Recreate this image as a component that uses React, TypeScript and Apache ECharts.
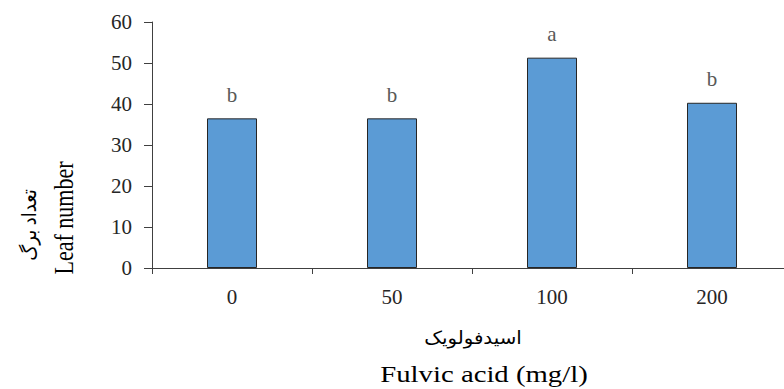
import React, { useEffect, useRef } from "react";
import * as echarts from "echarts";

const categories = ["0", "50", "100", "200"];
const leafNumber = [36.5, 36.5, 51.3, 40.3];
const letters = ["b", "b", "a", "b"];
const yTicks = { min: 0, max: 60, interval: 10 };

const SERIF = "'Liberation Serif', 'Times New Roman', serif";
const ARABIC = "'Liberation Serif', 'DejaVu Sans', serif";

export default function App() {
  const ref = useRef<HTMLDivElement>(null);
  useEffect(() => {
    if (!ref.current) return;
    const chart = echarts.init(ref.current, undefined, { renderer: "svg" });
    chart.setOption({
      animation: false,
      backgroundColor: "#ffffff",
      grid: { left: 152, top: 22, width: 640, height: 246, outerBoundsMode: "none", containLabel: false },
      xAxis: {
        type: "category",
        data: categories,
        boundaryGap: true,
        axisLine: { show: true, lineStyle: { color: "#404040", width: 1 } },
        axisTick: { show: true, alignWithLabel: false, length: 6, lineStyle: { color: "#404040" } },
        axisLabel: { margin: 18, fontSize: 21, fontFamily: SERIF, color: "#262626" },
        splitLine: { show: false },
      },
      yAxis: {
        type: "value",
        min: yTicks.min,
        max: yTicks.max,
        interval: yTicks.interval,
        axisLine: { show: true, lineStyle: { color: "#404040", width: 1 } },
        axisTick: { show: true, inside: false, length: 8, lineStyle: { color: "#404040" } },
        axisLabel: { margin: 20, fontSize: 21, fontFamily: SERIF, color: "#262626" },
        splitLine: { show: false },
      },
      series: [
        {
          type: "bar",
          data: leafNumber,
          barWidth: 50,
          itemStyle: { color: "#5B9BD5", borderColor: "#262626", borderWidth: 1 },
          label: {
            show: true,
            position: "top",
            distance: 13,
            fontSize: 21,
            fontFamily: SERIF,
            color: "#595959",
            formatter: (p: any) => letters[p.dataIndex],
          },
        },
      ],
      graphic: [
        {
          type: "text",
          x: 473,
          y: 338,
          scaleX: 1.1,
          style: {
            text: "اسیدفولویک",
            font: `18px ${ARABIC}`,
            fill: "#000000",
            align: "center",
            verticalAlign: "middle",
          },
        },
        {
          type: "text",
          x: 484,
          y: 374,
          scaleX: 1.25,
          style: {
            text: "Fulvic acid (mg/l)",
            font: `23px ${SERIF}`,
            fill: "#000000",
            align: "center",
            verticalAlign: "middle",
          },
        },
        {
          type: "text",
          x: 64,
          y: 218,
          rotation: Math.PI / 2,
          scaleY: 1.25,
          style: {
            text: "Leaf number",
            font: `22px ${SERIF}`,
            fill: "#000000",
            align: "center",
            verticalAlign: "middle",
          },
        },
        {
          type: "text",
          x: 29,
          y: 225,
          rotation: Math.PI / 2,
          scaleY: 1.1,
          style: {
            text: "تعداد برگ",
            font: `18px ${ARABIC}`,
            fill: "#000000",
            align: "center",
            verticalAlign: "middle",
          },
        },
      ],
    });
    return () => chart.dispose();
  }, []);
  return <div ref={ref} style={{ width: 784, height: 389, position: "absolute", left: 0, top: 0 }} />;
}
